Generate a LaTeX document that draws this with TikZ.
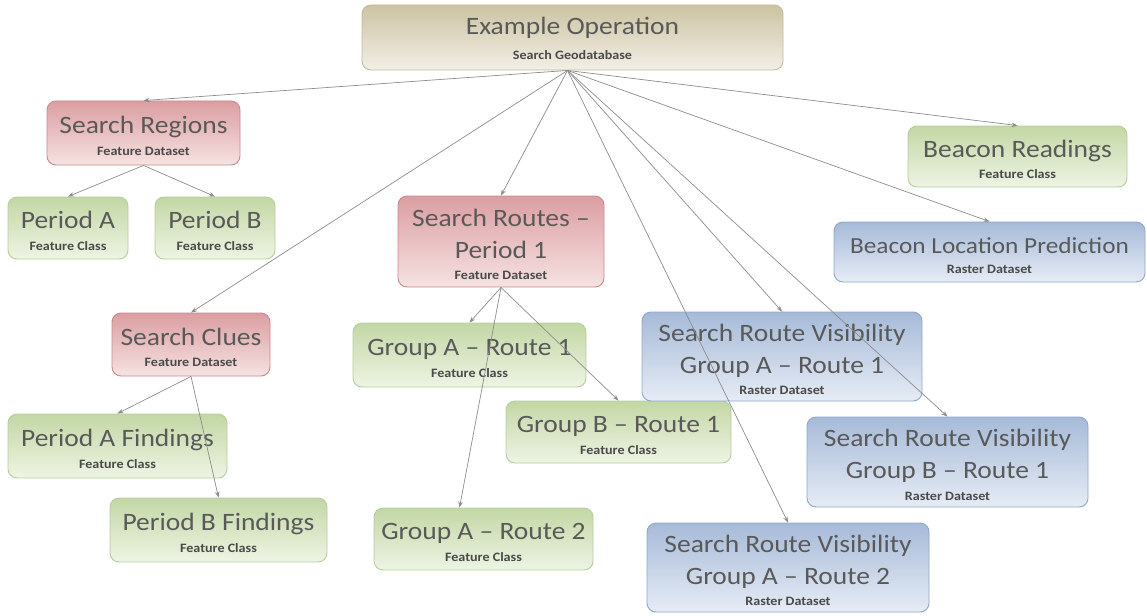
\documentclass[tikz,border=0pt]{standalone}
\usepackage{fontspec}
\setmainfont{Carlito}[FakeStretch=1.1]
\usetikzlibrary{arrows.meta,calc}

\definecolor{txt}{HTML}{595959}
\definecolor{subtxt}{HTML}{4A4A4A}
\definecolor{lineC}{HTML}{8C8C8C}
% box palettes: border, top, bottom
\definecolor{tanB}{HTML}{C2BA9C}\definecolor{tanT}{HTML}{CCC3A2}\definecolor{tanL}{HTML}{F2EFE6}
\definecolor{redB}{HTML}{C98890}\definecolor{redT}{HTML}{DB9EA2}\definecolor{redL}{HTML}{F6E2E2}
\definecolor{grnB}{HTML}{B7CC9C}\definecolor{grnT}{HTML}{C3D7A5}\definecolor{grnL}{HTML}{EEF4E4}
\definecolor{bluB}{HTML}{8FA6C9}\definecolor{bluT}{HTML}{A6BAD8}\definecolor{bluL}{HTML}{E6ECF5}

% second line of a card: the kind of item
\newcommand{\kind}[1]{{\fontsize{12.8}{15}\selectfont\bfseries\color{subtxt}#1}}
% extra room above the first title line
\newcommand{\lead}{\rule{0pt}{23.5pt}}

\tikzset{
  card/.style={rounded corners=9pt, line width=0.9pt, align=center, inner sep=0pt,
    text=txt, font=\fontsize{25}{32}\selectfont},
  tanbox/.style={card, draw=tanB, top color=tanT, bottom color=tanL},
  redbox/.style={card, draw=redB, top color=redT, bottom color=redL},
  grnbox/.style={card, draw=grnB, top color=grnT, bottom color=grnL},
  blubox/.style={card, draw=bluB, top color=bluT, bottom color=bluL},
  sz/.style 2 args={minimum width=#1pt, minimum height=#2pt},
  link/.style={draw=lineC, line width=0.7pt, -{Stealth[length=6pt,width=4.5pt]}}
}

\begin{document}
\begin{tikzpicture}[x=1pt,y=-1pt]
\useasboundingbox (0,0) rectangle (1147,615);

% root
\node[tanbox, sz={421}{65}] (eo) at (572.5,37.5) {\rule{0pt}{19pt}Example Operation\\[-7pt]\kind{Search Geodatabase}};

% feature datasets
\node[redbox, sz={193}{64}] (sr) at (143.5,133) {\lead Search Regions\\[-10.5pt]\kind{Feature Dataset}};
\node[redbox, sz={206}{91}] (srt) at (501,241.5) {\lead Search Routes --\\Period 1\\[-10.5pt]\kind{Feature Dataset}};
\node[redbox, sz={158}{63}] (sc) at (191,344.5) {\lead Search Clues\\[-10.5pt]\kind{Feature Dataset}};

% feature classes
\node[grnbox, sz={120}{62}] (pa) at (68,228) {\lead Period A\\[-10.5pt]\kind{Feature Class}};
\node[grnbox, sz={120}{62}] (pb) at (215,228) {\lead Period B\\[-10.5pt]\kind{Feature Class}};
\node[grnbox, sz={219}{61}] (br) at (1017.5,156.5) {\lead Beacon Readings\\[-10.5pt]\kind{Feature Class}};
\node[grnbox, sz={233}{64}] (ga1) at (469.5,355) {\lead Group A -- Route 1\\[-10.5pt]\kind{Feature Class}};
\node[grnbox, sz={219}{64}] (paf) at (117.5,446) {\lead Period A Findings\\[-10.5pt]\kind{Feature Class}};
\node[grnbox, sz={225}{62}] (gb1) at (618.5,432) {\lead Group B -- Route 1\\[-10.5pt]\kind{Feature Class}};
\node[grnbox, sz={217}{64}] (pbf) at (218.5,530) {\lead Period B Findings\\[-10.5pt]\kind{Feature Class}};
\node[grnbox, sz={219}{62}] (ga2) at (483.5,539) {\lead Group A -- Route 2\\[-10.5pt]\kind{Feature Class}};

% raster datasets
\node[blubox, sz={311}{60}, font=\fontsize{23}{30}\selectfont] (blp) at (989.5,252) {\lead Beacon Location Prediction\\[-10pt]\kind{Raster Dataset}};
\node[blubox, sz={280}{89}] (va1) at (782,356.5) {\lead Search Route Visibility\\Group A -- Route 1\\[-10.5pt]\kind{Raster Dataset}};
\node[blubox, sz={281}{90}] (vb1) at (947.5,462) {\lead Search Route Visibility\\Group B -- Route 1\\[-10.5pt]\kind{Raster Dataset}};
\node[blubox, sz={282}{89}] (va2) at (788,567.5) {\lead Search Route Visibility\\Group A -- Route 2\\[-10.5pt]\kind{Raster Dataset}};

% connectors
\foreach \t in {sr,sc,srt,va1,va2,vb1,blp,br}
  \draw[link] ($(eo.south)+(-5,0)$) -- (\t.north);
\draw[link] (sr.south) -- (pa.north);
\draw[link] (sr.south) -- (pb.north);
\draw[link] (sc.south) -- (paf.north);
\draw[link] (sc.south) -- (pbf.north);
\draw[link] (srt.south) -- (ga1.north);
\draw[link] (srt.south) -- (gb1.north);
\draw[link] (srt.south) -- ($(ga2.north)+(-24,0)$);
\end{tikzpicture}
\end{document}
